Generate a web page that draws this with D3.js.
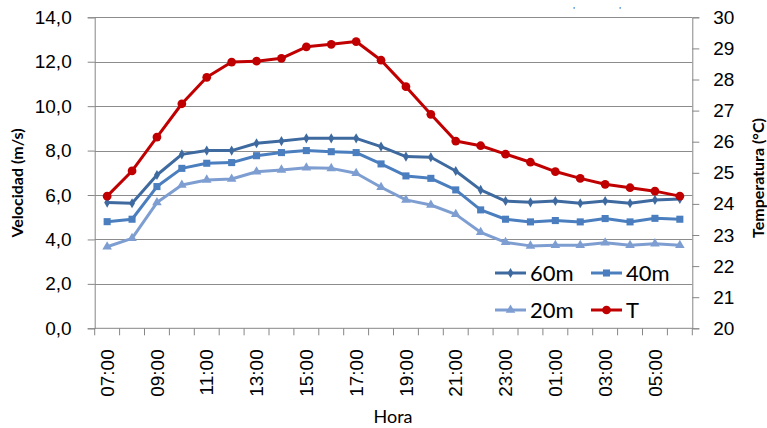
<!DOCTYPE html>
<html>
<head>
<meta charset="utf-8">
<script src="https://cdn.jsdelivr.net/npm/d3@7"></script>
<style>
  html, body { margin: 0; padding: 0; background: #fff; }
  svg { display: block; font-family: Lato, "Open Sans", sans-serif; }
</style>
</head>
<body>
<svg id="chart" width="767" height="428"></svg>
<script>
// Hourly wind speed at three heights and air temperature
const hours = ["07:00","08:00","09:00","10:00","11:00","12:00","13:00","14:00","15:00","16:00","17:00","18:00",
               "19:00","20:00","21:00","22:00","23:00","00:00","01:00","02:00","03:00","04:00","05:00","06:00"];
const v60 = [5.66,5.63,6.90,7.83,8.00,8.00,8.33,8.43,8.55,8.55,8.55,8.18,7.73,7.70,7.08,6.23,5.73,5.67,5.73,5.63,5.73,5.63,5.78,5.82];
const v40 = [4.80,4.91,6.38,7.20,7.43,7.46,7.77,7.91,8.00,7.95,7.91,7.40,6.86,6.75,6.23,5.33,4.91,4.79,4.85,4.79,4.94,4.79,4.95,4.91];
const v20 = [3.67,4.05,5.66,6.45,6.68,6.72,7.05,7.13,7.23,7.20,6.98,6.35,5.78,5.55,5.13,4.32,3.87,3.71,3.74,3.74,3.85,3.74,3.81,3.74];
const temp = [24.25,25.06,26.15,27.22,28.07,28.56,28.59,28.68,29.05,29.13,29.22,28.62,27.77,26.88,26.02,25.87,25.60,25.34,25.04,24.82,24.63,24.52,24.41,24.25];
const speedTicks = [0,2,4,6,8,10,12,14];
const tempTicks = [20,21,22,23,24,25,26,27,28,29,30];
const hourLabels = hours.filter((h, i) => i % 2 === 0);

const svg = d3.select("#chart");
const plotLeft = 94.7, plotRight = 692.3, plotTop = 17.3, plotBottom = 328.3;
const axisColor = "#868686", gridColor = "#8c8c8c";

const x = d3.scaleBand().domain(hours).range([plotLeft, plotRight]);
const y = d3.scaleLinear().domain([0, 14]).range([plotBottom, plotTop]);
const y2 = d3.scaleLinear().domain([20, 30]).range([plotBottom, plotTop]);
const comma = v => d3.format(".1f")(v).replace(".", ",");

// horizontal gridlines
svg.append("g").selectAll("line").data(speedTicks.filter(t => t > 0)).join("line")
  .attr("x1", plotLeft).attr("x2", plotRight)
  .attr("y1", d => Math.round(y(d)) + 0.5).attr("y2", d => Math.round(y(d)) + 0.5)
  .attr("stroke", gridColor).attr("stroke-width", 1);

// left axis
const gl = svg.append("g").attr("transform", `translate(${plotLeft},0)`)
  .call(d3.axisLeft(y).tickValues(speedTicks).tickFormat(comma).tickSize(7).tickPadding(16));
gl.select(".domain").attr("stroke", axisColor);
gl.selectAll(".tick line").attr("stroke", axisColor);
gl.selectAll(".tick text").attr("font-size", 19).attr("fill", "#000");

// right axis
const gr = svg.append("g").attr("transform", `translate(${plotRight},0)`)
  .call(d3.axisRight(y2).tickValues(tempTicks).tickFormat(d3.format("d")).tickSize(7).tickPadding(14));
gr.select(".domain").attr("stroke", axisColor);
gr.selectAll(".tick line").attr("stroke", axisColor);
gr.selectAll(".tick text").attr("font-size", 19).attr("fill", "#000");

// bottom axis: boundary ticks between categories
const boundaries = hours.map(h => x(h)).concat([plotRight]);
svg.append("g").selectAll("line").data(boundaries).join("line")
  .attr("x1", d => d).attr("x2", d => d)
  .attr("y1", plotBottom).attr("y2", plotBottom + 7)
  .attr("stroke", axisColor);
svg.append("line").attr("x1", plotLeft).attr("x2", plotRight)
  .attr("y1", plotBottom).attr("y2", plotBottom).attr("stroke", axisColor);

const gb = svg.append("g").attr("transform", `translate(0,${plotBottom})`)
  .call(d3.axisBottom(x).tickValues(hourLabels).tickSize(0));
gb.select(".domain").remove();
gb.selectAll(".tick text")
  .attr("font-size", 19).attr("fill", "#000")
  .attr("text-anchor", "end")
  .attr("transform", "translate(0,21) rotate(-90)")
  .attr("x", 0).attr("y", 0).attr("dy", "0.35em");

// axis titles
svg.append("text").attr("transform", "translate(23,183) rotate(-90)")
  .attr("text-anchor", "middle").attr("font-size", 16).attr("font-weight", "bold")
  .text("Velocidad (m/s)");
svg.append("text").attr("transform", "translate(764,178) rotate(-90)")
  .attr("text-anchor", "middle").attr("font-size", 16).attr("font-weight", "bold")
  .text("Temperatura (°C)");
svg.append("text").attr("x", 393).attr("y", 423)
  .attr("text-anchor", "middle").attr("font-size", 18)
  .text("Hora");

// small marks at the top edge
svg.append("g").selectAll("text").data([574, 620]).join("text")
  .attr("x", d => d).attr("y", 13).attr("font-size", 8).attr("text-anchor", "middle")
  .text("'");

// series
const series = [
  { name: "60m", values: v60, scale: y, color: "#3E6AA0", marker: "diamond" },
  { name: "40m", values: v40, scale: y, color: "#4A7EBF", marker: "square" },
  { name: "20m", values: v20, scale: y, color: "#7E9ED2", marker: "triangle" },
  { name: "T", values: temp, scale: y2, color: "#C00000", marker: "circle" }
];
const symbolFor = {
  diamond: d3.symbol().type(d3.symbolDiamond).size(30),
  square: d3.symbol().type(d3.symbolSquare).size(50),
  triangle: d3.symbol().type(d3.symbolTriangle).size(40),
  circle: d3.symbol().type(d3.symbolCircle).size(60)
};
const cx = h => x(h) + x.bandwidth() / 2;

series.forEach(s => {
  const pts = hours.map((h, i) => [cx(h), s.scale(s.values[i])]);
  svg.append("path").datum(pts)
    .attr("d", d3.line())
    .attr("fill", "none").attr("stroke", s.color).attr("stroke-width", 3)
    .attr("stroke-linejoin", "round");
  svg.append("g").selectAll("path").data(pts).join("path")
    .attr("transform", d => `translate(${d[0]},${d[1]})`)
    .attr("d", symbolFor[s.marker]())
    .attr("fill", s.color);
});

// legend
const legendPos = [[495, 273], [591, 273], [495, 310], [591, 310]];
series.forEach((s, i) => {
  const [lx, ly] = legendPos[i];
  const g = svg.append("g").attr("transform", `translate(${lx},${ly})`);
  g.append("line").attr("x1", 0).attr("x2", 31).attr("y1", 0).attr("y2", 0)
    .attr("stroke", s.color).attr("stroke-width", 3);
  g.append("path").attr("transform", "translate(15.5,0)").attr("d", symbolFor[s.marker]())
    .attr("fill", s.color);
  g.append("text").attr("x", 35).attr("y", 0).attr("dy", "0.35em")
    .attr("font-size", 22).text(s.name);
});
</script>
</body>
</html>
